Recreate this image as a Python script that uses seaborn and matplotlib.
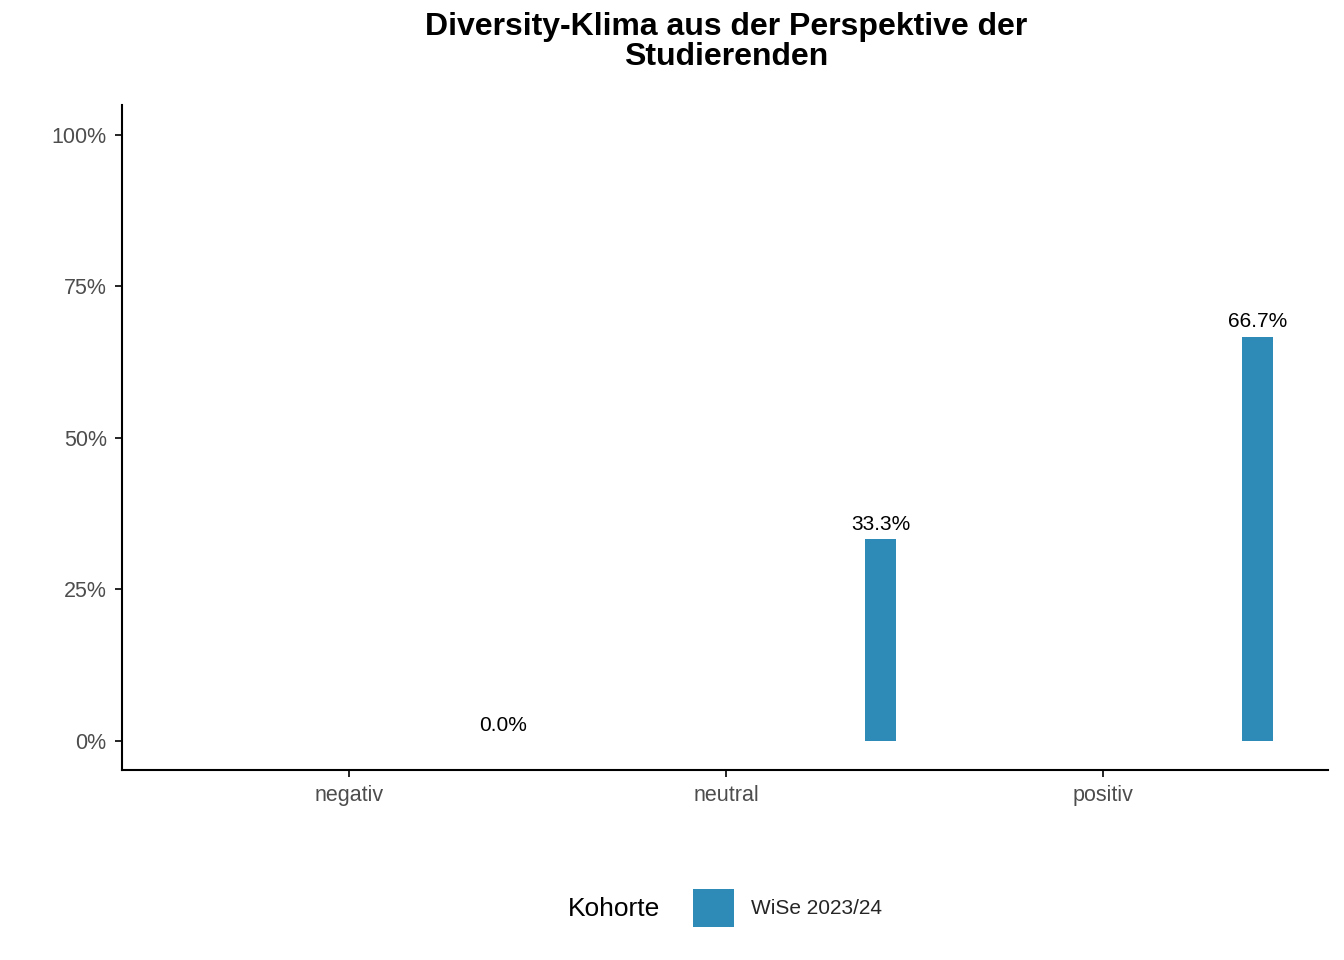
import matplotlib
matplotlib.use("Agg")
import matplotlib.pyplot as plt
import seaborn as sns
import numpy as np
from matplotlib.patches import Patch

categories = ["negativ", "neutral", "positiv"]
values = [0.0, 33.3, 66.7]
labels = ["0.0%", "33.3%", "66.7%"]
cohort = "WiSe 2023/24"
color = "#2E8BB8"

sns.set_theme(style="white", rc={"font.family": "Liberation Sans"})
fig = plt.figure(figsize=(13.44, 9.6), dpi=100)
ax = fig.add_axes([122/1344, 1-770/960, (1328-122)/1344, (770-105)/960])

x = np.arange(len(categories)) + 0.41
ax.bar(x, values, width=0.08, color=color, linewidth=0)
for xi, v, t in zip(x, values, labels):
    ax.text(xi, v + 0.9, t, ha="center", va="bottom", fontsize=15, color="black")

ax.set_xlim(-0.602, 2.597)
ax.set_ylim(-4.8, 104.9)
ax.set_xticks(range(len(categories)))
ax.set_xticklabels(categories)
ax.set_yticks([0, 25, 50, 75, 100])
ax.set_yticklabels(["0%", "25%", "50%", "75%", "100%"])
ax.tick_params(axis="both", labelsize=15.5, labelcolor="#4D4D4D", length=5, width=1.2,
               bottom=True, left=True, color="black", pad=6)
for s in ["top", "right"]:
    ax.spines[s].set_visible(False)
for s in ["left", "bottom"]:
    ax.spines[s].set_color("black")
    ax.spines[s].set_linewidth(1.5)
ax.set_xlabel("")
ax.set_ylabel("")

fig.suptitle("Diversity-Klima aus der Perspektive der\nStudierenden", x=726/1344, y=1-12/960,
             va="top", fontsize=23, fontweight="bold", linespacing=1.0, color="black")

fig.text(614/1344, 1-909/960, "Kohorte", ha="center", va="center", fontsize=19, color="black")
fig.legend(handles=[Patch(color=color, label=cohort, linewidth=0)], loc="center left",
           bbox_to_anchor=(674/1344, 1-908/960), frameon=False, fontsize=15,
           handlelength=2.0, handleheight=2.4, handletextpad=0.8)

fig.savefig("out.png", dpi=100)
